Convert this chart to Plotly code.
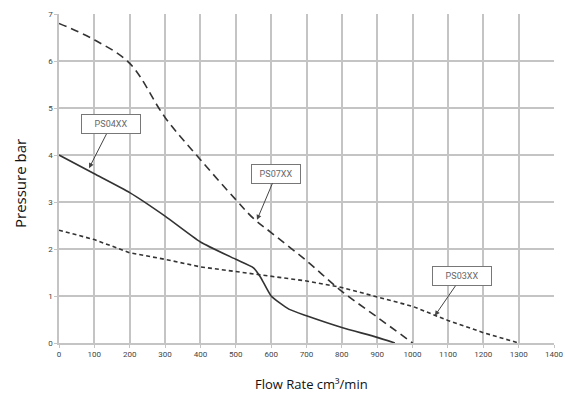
import plotly.graph_objects as go

# PS07XX (long dash)
ps07_flow = [0, 100, 200, 300, 400, 500, 550, 600, 700, 800, 900, 1000]
ps07_pres = [6.8, 6.45, 5.95, 4.8, 3.9, 3.05, 2.65, 2.35, 1.75, 1.1, 0.55, 0.0]
# PS04XX (solid)
ps04_flow = [0, 100, 200, 300, 400, 500, 550, 570, 600, 650, 700, 800, 900, 950]
ps04_pres = [4.0, 3.6, 3.2, 2.7, 2.15, 1.78, 1.6, 1.4, 1.0, 0.72, 0.58, 0.33, 0.12, 0.0]
# PS03XX (short dash)
ps03_flow = [0, 100, 200, 300, 400, 500, 600, 700, 800, 900, 1000, 1100, 1200, 1300]
ps03_pres = [2.4, 2.2, 1.92, 1.78, 1.62, 1.52, 1.42, 1.32, 1.18, 0.98, 0.78, 0.48, 0.22, 0.0]

x_ticks = list(range(0, 1401, 100))
y_ticks = list(range(0, 8))

labels = ["PS04XX", "PS07XX", "PS03XX"]
# arrow tip (data) and label position (data)
tips = [(85, 3.72), (560, 2.62), (1063, 0.58)]
label_pos = [(148, 4.65), (615, 3.6), (1140, 1.42)]
label_w = [50, 40, 50]

fig = go.Figure()
line_color = "#333333"
fig.add_trace(go.Scatter(x=ps07_flow, y=ps07_pres, mode="lines",
                         line=dict(color=line_color, width=1.6, dash="8px,5px"),
                         line_shape="spline", showlegend=False))
fig.add_trace(go.Scatter(x=ps04_flow, y=ps04_pres, mode="lines",
                         line=dict(color=line_color, width=1.6),
                         line_shape="spline", line_smoothing=0.5, showlegend=False))
fig.add_trace(go.Scatter(x=ps03_flow, y=ps03_pres, mode="lines",
                         line=dict(color=line_color, width=1.6, dash="4px,3px"),
                         showlegend=False))

for lab, (tx, ty), (lx, ly), w in zip(labels, tips, label_pos, label_w):
    fig.add_annotation(x=tx, y=ty, ax=lx, ay=ly, axref="x", ayref="y",
                       text=lab, showarrow=True, arrowhead=2, arrowsize=1,
                       arrowwidth=1, arrowcolor="#444444",
                       font=dict(family="Liberation Sans Narrow, Roboto", size=9, color="#666666"),
                       bgcolor="white", bordercolor="#777777", borderwidth=1,
                       borderpad=4, width=w)

# axis titles
fig.add_annotation(xref="paper", yref="paper", x=-0.079, y=0.486, xanchor="center",
                   yanchor="middle", textangle=-90, showarrow=False,
                   text="Pressure bar",
                   font=dict(family="Open Sans", size=15, color="#111111"))
fig.add_annotation(xref="paper", yref="paper", x=0.511, y=-0.125, xanchor="center",
                   yanchor="middle", showarrow=False,
                   text="Flow Rate cm³/min",
                   font=dict(family="Open Sans", size=13, color="#111111"))

grid = "#c4c4c4"
tickfont = dict(family="Liberation Sans Narrow, Roboto", size=8, color="#444444")
fig.update_layout(
    width=565, height=394,
    margin=dict(l=59, r=11, t=14, b=51),
    paper_bgcolor="white", plot_bgcolor="white",
    xaxis=dict(range=[0, 1400], tickvals=x_ticks, showgrid=True, gridcolor=grid,
               gridwidth=1.5, showline=True, linecolor=grid, linewidth=1.5,
               zeroline=False, ticks="outside", ticklen=3, tickcolor=grid,
               tickfont=tickfont, automargin=False, ticklabeloverflow="allow"),
    yaxis=dict(range=[0, 7], tickvals=y_ticks, showgrid=True, gridcolor=grid,
               gridwidth=1.5, showline=True, linecolor=grid, linewidth=1.5,
               zeroline=False, ticks="outside", ticklen=3, tickcolor=grid,
               tickfont=tickfont, automargin=False, ticklabeloverflow="allow"),
)

fig.write_html("out.html", config={"displayModeBar": False},
               post_script="document.body.style.margin='0';document.body.style.overflow='hidden';")
